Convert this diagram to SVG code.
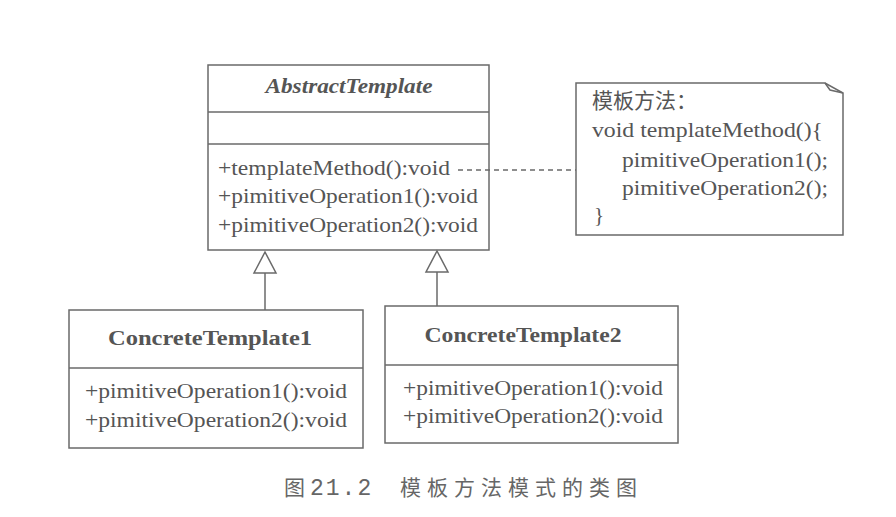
<svg xmlns="http://www.w3.org/2000/svg" width="896" height="517" viewBox="0 0 896 517">
<style>
.box{fill:#fff;stroke:#6a6a6a;stroke-width:1.5}
.ln{stroke:#6a6a6a;stroke-width:1.5;fill:none}
.t{font-family:"Liberation Serif","Times New Roman",serif;font-size:21px;fill:#555}
.bi{font-family:"Liberation Serif","Times New Roman",serif;font-size:20px;font-weight:bold;font-style:italic;fill:#555}
.b{font-family:"Liberation Serif","Times New Roman",serif;font-size:20px;font-weight:bold;fill:#555}
.cn{font-family:"Liberation Serif","Noto Sans CJK SC",serif;font-size:21px;fill:#555}
.cap{font-family:"Noto Sans CJK SC",sans-serif;font-size:21px;fill:#666}
.capn{font-family:"Liberation Mono",monospace;font-size:23px;letter-spacing:2px}
</style>
<rect width="896" height="517" fill="#fff"/>
<g id="AbstractTemplate">
<rect class="box" x="208" y="65" width="281" height="185"/>
<line class="ln" x1="208" y1="112" x2="489" y2="112"/>
<line class="ln" x1="208" y1="144" x2="489" y2="144"/>
<text class="bi" x="349" y="93" text-anchor="middle" textLength="167" lengthAdjust="spacingAndGlyphs">AbstractTemplate</text>
<text class="t" x="218" y="175" textLength="232" lengthAdjust="spacingAndGlyphs">+templateMethod():void</text>
<text class="t" x="218" y="203" textLength="260" lengthAdjust="spacingAndGlyphs">+pimitiveOperation1():void</text>
<text class="t" x="218" y="232" textLength="260" lengthAdjust="spacingAndGlyphs">+pimitiveOperation2():void</text>
</g>
<g id="note">
<path class="box" d="M576,83 L825,83 L843,93 L843,235 L576,235 Z"/>
<path class="ln" d="M825,83 L830,90 L843,93"/>
<text class="cn" x="592" y="108">模板方法：</text>
<text class="t" x="592" y="137" textLength="231" lengthAdjust="spacingAndGlyphs">void templateMethod(){</text>
<text class="t" x="622" y="167" textLength="206" lengthAdjust="spacingAndGlyphs">pimitiveOperation1();</text>
<text class="t" x="622" y="195" textLength="206" lengthAdjust="spacingAndGlyphs">pimitiveOperation2();</text>
<text class="t" x="594" y="222">}</text>
</g>
<g id="ConcreteTemplate1">
<rect class="box" x="69" y="310" width="294" height="138"/>
<line class="ln" x1="69" y1="368" x2="363" y2="368"/>
<text class="b" x="210" y="345" text-anchor="middle" textLength="204" lengthAdjust="spacingAndGlyphs">ConcreteTemplate1</text>
<text class="t" x="85" y="398" textLength="262" lengthAdjust="spacingAndGlyphs">+pimitiveOperation1():void</text>
<text class="t" x="85" y="427" textLength="262" lengthAdjust="spacingAndGlyphs">+pimitiveOperation2():void</text>
</g>
<g id="ConcreteTemplate2">
<rect class="box" x="385" y="306" width="293" height="137"/>
<line class="ln" x1="385" y1="365" x2="678" y2="365"/>
<text class="b" x="523" y="342" text-anchor="middle" textLength="197" lengthAdjust="spacingAndGlyphs">ConcreteTemplate2</text>
<text class="t" x="403" y="395" textLength="260" lengthAdjust="spacingAndGlyphs">+pimitiveOperation1():void</text>
<text class="t" x="403" y="423" textLength="260" lengthAdjust="spacingAndGlyphs">+pimitiveOperation2():void</text>
</g>
<g id="connectors">
<line class="ln" x1="458" y1="170" x2="576" y2="170" stroke-dasharray="5,4"/>
<line class="ln" x1="265" y1="273" x2="265" y2="310"/>
<polygon class="box" points="265,252 254,273 276,273"/>
<line class="ln" x1="437" y1="272" x2="437" y2="306"/>
<polygon class="box" points="437,251 426,272 448,272"/>
</g>
<text id="caption" class="cap" y="495" xml:space="preserve"><tspan x="284">图 </tspan><tspan class="capn" x="310">21.2  </tspan><tspan x="400" letter-spacing="6">模板方法模式的类图</tspan></text>
</svg>
